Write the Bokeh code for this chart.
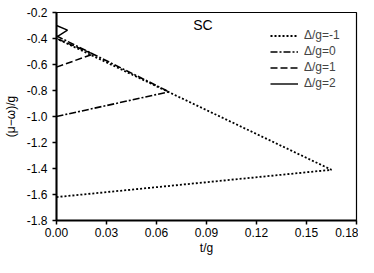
from bokeh.plotting import figure
from bokeh.models import Range1d, FixedTicker, Legend, LegendItem, Label
from bokeh.embed import file_html
from bokeh.resources import INLINE

# Data (t/g, (mu-omega)/g)
t_m1 = [0.0, 0.165, 0.0]
y_m1 = [-1.62, -1.41, -0.40]
t_0 = [0.0, 0.0675, 0.0]
y_0 = [-1.0, -0.81, -0.38]
t_1 = [0.0, 0.022, 0.0]
y_1 = [-0.62, -0.52, -0.40]
t_2 = [0.0, 0.0066, 0.0]
y_2 = [-0.30, -0.335, -0.39]

x_ticks = [0.0, 0.03, 0.06, 0.09, 0.12, 0.15, 0.18]
y_ticks = [-1.8, -1.6, -1.4, -1.2, -1.0, -0.8, -0.6, -0.4, -0.2]
labels = ["Δ/g=-1", "Δ/g=0", "Δ/g=1", "Δ/g=2"]

FONT = "Liberation Sans"

p = figure(width=358, height=257, output_backend="svg", toolbar_location=None,
           x_range=Range1d(0, 0.18), y_range=Range1d(-1.8, -0.2),
           min_border_left=56, min_border_right=2, min_border_top=12, min_border_bottom=37)
p.xgrid.visible = False
p.ygrid.visible = False
p.outline_line_color = "black"
p.outline_line_width = 1.2
p.background_fill_color = "white"
p.border_fill_color = "white"

r1 = p.line(t_m1, y_m1, line_color="black", line_width=1.8, line_dash="2 2")
r2 = p.line(t_0, y_0, line_color="black", line_width=1.6, line_dash="7 2 2 2")
r3 = p.line(t_1, y_1, line_color="black", line_width=1.5, line_dash="7 3")
r4 = p.line(t_2, y_2, line_color="black", line_width=1.4)

for ax in (p.xaxis[0], p.yaxis[0]):
    ax.axis_line_width = 2
    ax.axis_line_color = "black"
    ax.major_tick_out = 4
    ax.major_tick_in = 0
    ax.major_tick_line_width = 1.5
    ax.minor_tick_out = 0
    ax.minor_tick_in = 0
    ax.major_label_text_font = FONT
    ax.major_label_text_font_size = "12px"
    ax.major_label_text_color = "black"
    ax.axis_label_text_font = FONT
    ax.axis_label_text_font_size = "12px"
    ax.axis_label_text_font_style = "normal"
    ax.axis_label_text_color = "black"

p.xaxis[0].ticker = FixedTicker(ticks=x_ticks)
p.xaxis[0].major_label_overrides = {v: f"{v:.2f}" for v in x_ticks}
p.yaxis[0].ticker = FixedTicker(ticks=y_ticks)
p.yaxis[0].major_label_overrides = {v: f"{v:.1f}" for v in y_ticks}
p.xaxis[0].axis_label = "t/g"
p.yaxis[0].axis_label = "(μ−ω)/g"
p.xaxis[0].major_label_standoff = 3
p.xaxis[0].axis_label_standoff = 1
p.yaxis[0].major_label_standoff = 5
p.yaxis[0].axis_label_standoff = 6

legend = Legend(items=[LegendItem(label=labels[0], renderers=[r1]),
                       LegendItem(label=labels[1], renderers=[r2]),
                       LegendItem(label=labels[2], renderers=[r3]),
                       LegendItem(label=labels[3], renderers=[r4])],
                location=(210, 126))
legend.border_line_alpha = 0
legend.background_fill_alpha = 0
legend.label_text_font = FONT
legend.label_text_font_size = "12px"
legend.glyph_width = 28
legend.glyph_height = 13
legend.label_height = 13
legend.spacing = 2
legend.padding = 4
legend.margin = 0
legend.label_standoff = 6
p.add_layout(legend)

p.add_layout(Label(x=0.082, y=-0.354, text="SC", text_font=FONT, text_font_size="14px",
                   text_color="black"))

open("out.html", "w").write(file_html(p, INLINE))
